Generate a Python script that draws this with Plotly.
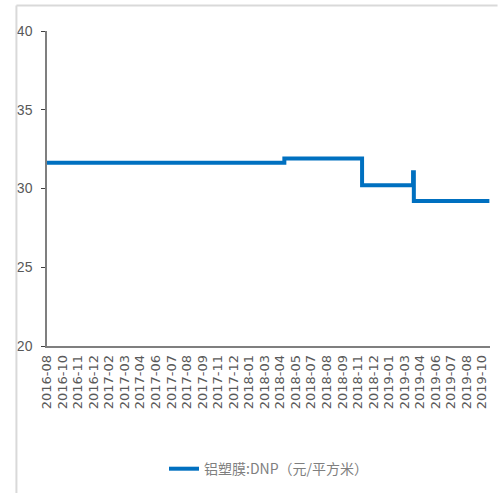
import plotly.graph_objects as go

# Category tick labels along the bottom axis (one every ~6 weeks)
month_labels = [
    "2016-08", "2016-10", "2016-11", "2016-12", "2017-02", "2017-03", "2017-04",
    "2017-06", "2017-07", "2017-08", "2017-09", "2017-11", "2017-12", "2018-01",
    "2018-03", "2018-04", "2018-05", "2018-07", "2018-08", "2018-09", "2018-11",
    "2018-12", "2019-01", "2019-03", "2019-04", "2019-06", "2019-07", "2019-08",
    "2019-10",
]

# Price change points (position on the label index, price in yuan / m²)
change_pos = [0.0, 15.27, 20.27, 23.55, 23.6, 28.46]
change_price = [31.64, 31.9, 30.2, 31.03, 29.2, 29.2]

series_name = "铝塑膜:DNP（元/平方米）"

fig = go.Figure()
fig.add_trace(go.Scatter(
    x=change_pos,
    y=change_price,
    mode="lines",
    line=dict(color="#0070C0", width=4, shape="hv"),
    name=series_name,
    showlegend=True,
))

tick_font = dict(family="Liberation Sans Narrow, Arial Narrow, sans-serif", size=14, color="#595959")

fig.update_layout(
    width=498,
    height=493,
    margin=dict(l=47, r=8, t=31, b=145),
    paper_bgcolor="white",
    plot_bgcolor="white",
    showlegend=True,
    legend=dict(
        orientation="h",
        x=0.5, xanchor="center",
        y=-0.34, yanchor="top",
        font=dict(family="Noto Sans CJK SC, sans-serif", size=14, color="#7f7f7f"),
        itemwidth=30,
    ),
    xaxis=dict(
        range=[0, 28.5],
        tickmode="array",
        tickvals=list(range(len(month_labels))),
        ticktext=month_labels,
        tickangle=-90,
        tickfont=dict(family="DejaVu Sans, sans-serif", size=13, color="#595959"),
        showgrid=False,
        zeroline=False,
        showline=True,
        linecolor="#7f7f7f",
        linewidth=1.5,
        ticks="",
        ticklabelstandoff=2,
    ),
    yaxis=dict(
        range=[20, 40],
        tickvals=[20, 25, 30, 35, 40],
        tickfont=tick_font,
        showgrid=False,
        zeroline=False,
        showline=True,
        linecolor="#7f7f7f",
        linewidth=1.5,
        ticks="outside",
        ticklen=4,
        tickcolor="#404040",
        ticklabelstandoff=6,
    ),
    shapes=[
        # light frame along the top and left edge of the chart area
        dict(type="line", xref="paper", yref="paper", x0=-0.069, x1=1.017, y0=1.081, y1=1.081,
             line=dict(color="#d9d9d9", width=2)),
        dict(type="line", xref="paper", yref="paper", x0=-0.069, x1=-0.069, y0=1.081, y1=-0.5,
             line=dict(color="#d9d9d9", width=2)),
    ],
)

fig.write_html("out.html")
